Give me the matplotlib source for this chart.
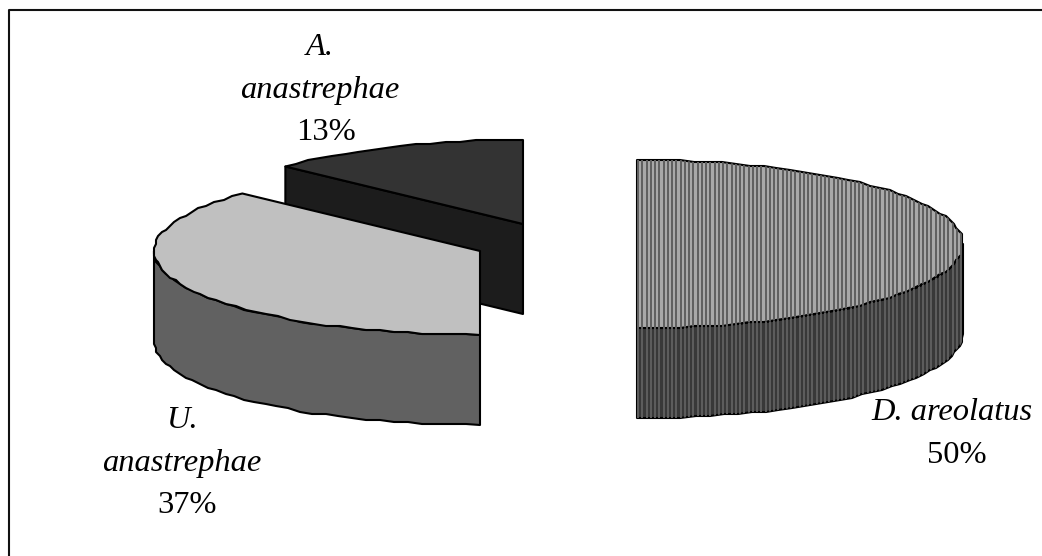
import numpy as np
from matplotlib import pyplot as plt
from matplotlib.patches import Polygon

species = ["D. areolatus", "U. anastrephae", "A. anastrephae"]
shares = [50, 37, 13]

rx = 326
ry = 84
depth = 90
serif = "Liberation Serif"
fontSize = 23.4


def rim(cx, cy, a0, a1):
    # angles go clockwise from the back of the pie, x and y are snapped so the rim steps a bit
    n = max(int(abs(a1 - a0) / 2.5), 2)
    a = np.radians(np.linspace(a0, a1, n))
    x = cx + rx * np.sin(a)
    y = cy - ry * np.cos(a)
    y[1:-1] = np.round(y[1:-1] / 2) * 2
    x[1:-1] = np.round(x[1:-1] / 2) * 2
    return np.column_stack([x, y])


def face(ax, pts, color, stripe=None):
    ax.add_patch(Polygon(pts, closed=True, fc=color, ec="none"))
    if stripe is not None:
        clip = Polygon(pts, closed=True, transform=ax.transData)
        xs = np.arange(pts[:, 0].min() + 1, pts[:, 0].max(), 4.25)
        lines = ax.vlines(xs, pts[:, 1].min(), pts[:, 1].max(), colors=stripe, lw=1.44, antialiased=False)
        lines.set_clip_path(clip)
    ax.add_patch(Polygon(pts, closed=True, fc="none", ec="black", lw=1.5, joinstyle="round"))


def wall(pts):
    return np.vstack([pts, pts[::-1] + [0, depth]])


fig = plt.figure(figsize=(10.42, 5.56), dpi=100)
ax = fig.add_axes([0, 0, 1, 1])
ax.set_xlim(0, 1042)
ax.set_ylim(556, 0)
ax.axis("off")

# only the left and top of the frame show
ax.plot([8.5, 8.5, 1042], [556, 9.5, 9.5], color="#111111", lw=1.5)

angles = np.cumsum([0] + shares) * 3.6

# back slice first, the light one overlaps it
cx, cy = 523, 224
arc = rim(cx, cy, angles[2], angles[3])
corner = arc[0]
cut = np.array([corner, [cx, cy], [cx, cy + depth], corner + [0, depth]])
face(ax, cut, "#1c1c1c")
face(ax, np.vstack([[cx, cy], arc]), "#333333")

cx, cy = 480, 251
front = rim(cx, cy, angles[1], 270)
face(ax, wall(front), "#616161")
face(ax, np.vstack([[cx, cy], rim(cx, cy, angles[1], angles[2])]), "#c0c0c0")

cx, cy = 637, 244
front = rim(cx, cy, 90, angles[1])
face(ax, wall(front), "#383838", stripe="#5c5c5c")
face(ax, rim(cx, cy, angles[0], angles[1]), "#a8a8a8", stripe="#606060")

labels = [
    ("A.", 319.5, 55, True),
    ("anastrephae", 320, 98, True),
    (f"{shares[2]}%", 326, 140, False),
    ("U.", 182, 428, True),
    ("anastrephae", 182, 471, True),
    (f"{shares[1]}%", 187, 513, False),
    (species[0], 952, 420, True),
    (f"{shares[0]}%", 957, 463, False),
]
for text, x, y, italic in labels:
    ax.text(x, y, text, ha="center", va="baseline", family=serif, fontsize=fontSize,
            style="italic" if italic else "normal", color="black")

fig.savefig("out.png", dpi=100, facecolor="white")
